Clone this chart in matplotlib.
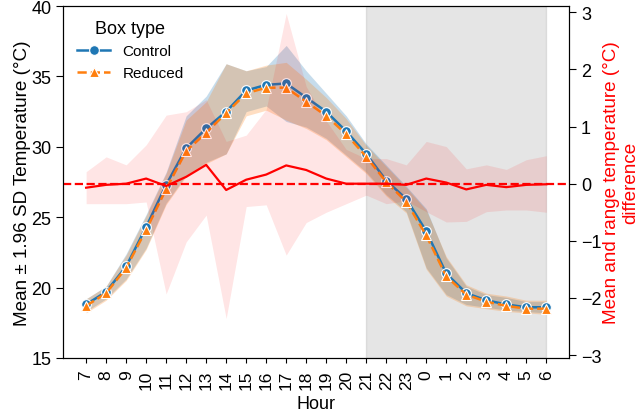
import matplotlib
matplotlib.use("Agg")
import matplotlib.pyplot as plt
import numpy as np

plt.rcParams['font.family'] = ['Liberation Sans', 'DejaVu Sans']

hours = ["7", "8", "9", "10", "11", "12", "13", "14", "15", "16", "17", "18",
         "19", "20", "21", "22", "23", "0", "1", "2", "3", "4", "5", "6"]

# Control box (mean, +/- 1.96 SD)
ctrl_mean = [18.8, 19.7, 21.5, 24.3, 27.3, 29.9, 31.3, 32.5, 34.0, 34.4, 34.5, 33.5,
             32.5, 31.1, 29.5, 27.6, 26.3, 24.0, 21.0, 19.6, 19.1, 18.8, 18.6, 18.6]
ctrl_hi = [19.2, 20.1, 22.4, 25.2, 28.2, 32.2, 33.6, 35.9, 35.4, 35.7, 37.2, 35.4,
           33.8, 32.2, 30.2, 28.7, 27.2, 25.6, 22.1, 20.1, 19.5, 19.3, 19.0, 19.0]
ctrl_lo = [18.3, 19.2, 20.6, 22.8, 26.0, 28.0, 28.9, 29.5, 32.5, 32.9, 31.8, 31.4,
           30.6, 29.4, 28.2, 26.6, 25.4, 21.4, 19.5, 18.8, 18.6, 18.4, 18.3, 18.2]

# Reduced box (mean, +/- 1.96 SD)
red_mean = [18.7, 19.6, 21.4, 24.1, 27.0, 29.7, 31.0, 32.4, 33.8, 34.2, 34.2, 33.2,
            32.2, 30.9, 29.3, 27.5, 26.1, 23.7, 20.8, 19.5, 19.0, 18.7, 18.5, 18.5]
red_hi = [19.2, 20.1, 22.3, 25.1, 28.1, 31.9, 33.2, 35.9, 35.4, 35.8, 36.0, 34.8,
          33.5, 32.0, 30.1, 28.6, 27.1, 25.5, 22.2, 20.2, 19.6, 19.4, 19.1, 19.1]
red_lo = [18.2, 19.1, 20.5, 22.7, 25.9, 27.9, 28.8, 29.5, 32.2, 32.6, 31.9, 31.3,
          30.5, 29.3, 28.1, 26.5, 25.3, 21.3, 19.4, 18.7, 18.5, 18.3, 18.2, 18.1]

# difference (reduced - control): mean and range
diff_mean = [-0.07, -0.02, 0.0, 0.09, -0.04, 0.12, 0.33, -0.11, 0.07, 0.16, 0.32, 0.24,
             0.09, 0.0, 0.0, 0.0, -0.02, 0.09, 0.02, -0.1, -0.02, -0.06, -0.02, -0.01]
diff_max = [0.21, 0.47, 0.33, 0.68, 1.2, 1.26, 1.47, 0.74, 0.85, 1.3, 2.98, 1.7,
            1.1, 0.6, 0.44, 0.44, 0.33, 0.74, 0.65, 0.26, 0.33, 0.25, 0.42, 0.49]
diff_min = [-0.35, -0.35, -0.35, -0.32, -1.93, -1.02, -0.55, -2.36, -0.4, -0.37, -1.25, -0.68,
            -0.5, -0.35, -0.2, -0.35, -0.3, -0.49, -0.67, -0.66, -0.49, -0.46, -0.46, -0.5]

x = np.arange(len(hours))

fig, ax = plt.subplots(figsize=(6.44, 4.14), dpi=100)
fig.subplots_adjust(left=0.098, right=0.884, top=0.983, bottom=0.133)

ax.axvspan(14, 23, color='grey', alpha=0.2, zorder=0)

ax.fill_between(x, ctrl_lo, ctrl_hi, color='tab:blue', alpha=0.25, lw=0)
ax.fill_between(x, red_lo, red_hi, color='tab:orange', alpha=0.25, lw=0)
ax.plot(x, ctrl_mean, color='tab:blue', ls='-', lw=1.8, marker='o', ms=7,
        mec='white', mew=0.8, label='Control')
ax.plot(x, red_mean, color='tab:orange', ls='--', lw=1.8, marker='^', ms=7,
        mec='white', mew=0.8, label='Reduced')

ax.set_ylim(15, 40)
ax.set_xticks(x)
ax.set_xticklabels(hours, rotation=90)
ax.set_xlabel("Hour", fontsize=13)
ax.set_ylabel("Mean \u00b1 1.96 SD Temperature (\u00b0C)", fontsize=13.6, labelpad=0)
ax.tick_params(axis='y', labelsize=13, length=5)
ax.tick_params(axis='x', labelsize=12.5, length=3.5, pad=5)

leg = ax.legend(title="Box type", loc='upper left', frameon=False,
                fontsize=11, title_fontsize=13, handlelength=2.2,
                bbox_to_anchor=(0.0, 1.0))

ax2 = ax.twinx()
ax2.fill_between(x, diff_min, diff_max, color='red', alpha=0.1, lw=0)
ax2.plot(x, diff_mean, color='red', lw=1.6)
ax2.axhline(0, color='red', ls='--', lw=1.6)
ax2.set_ylim(-3.05, 3.11)
ax2.set_yticks([-3, -2, -1, 0, 1, 2, 3])
ax2.tick_params(labelsize=13, length=5)
ax2.set_ylabel("Mean and range temperature (\u00b0C)\ndifference", color='red',
               fontsize=13.6, multialignment='center', labelpad=1)

fig.savefig("out.png", dpi=100)
